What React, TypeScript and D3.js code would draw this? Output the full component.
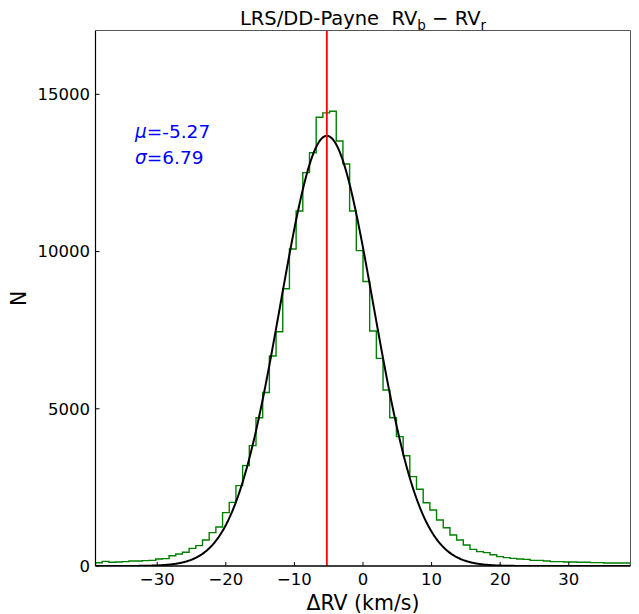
import React from "react";
import * as d3 from "d3";

const binStart = -39;
const binEnd = 39;
const counts = [
  105, 148, 117, 127, 138, 159, 159, 170, 180, 223,
  233, 328, 382, 435, 562, 647, 827, 1060, 1240, 1696,
  2025, 2555, 3191, 3827, 4717, 5520, 6678, 7452, 8819, 10081,
  11290, 12510, 13143, 14270, 14410, 14460, 13515, 12784, 11290, 10030,
  9050, 7473, 6604, 5597, 4717, 4113, 3508, 2841, 2439, 2013,
  1781, 1463, 1218, 986, 827, 668, 530, 456, 424, 360,
  297, 265, 244, 223, 212, 180, 180, 159, 138, 138,
  127, 127, 117, 117, 106, 106, 95, 95, 95, 95,
];
const mu = -5.27;
const sigma = 6.79;
const gaussPeak = 13680;
const xTicks = [-30, -20, -10, 0, 10, 20, 30];
const yTicks = [0, 5000, 10000, 15000];
const yMax = 17030;

const W = 639;
const H = 614;
const L = 95.5, R = 630.5, T = 30.5, B = 566;
const FONT = "DejaVu Sans, sans-serif";

export default function App() {
  const x = d3.scaleLinear().domain([binStart, binEnd]).range([L, R]);
  const y = d3.scaleLinear().domain([0, yMax]).range([B, T]);
  const nb = counts.length;
  const bw = (binEnd - binStart) / nb;
  const edges = d3.range(nb + 1).map((i) => binStart + i * bw);

  const pts: [number, number][] = [[edges[0], 0]];
  counts.forEach((c, i) => {
    pts.push([edges[i], c]);
    pts.push([edges[i + 1], c]);
  });
  pts.push([edges[nb], 0]);
  const stepPath = d3.line<[number, number]>().x((d) => x(d[0])).y((d) => y(d[1]))(pts) || "";

  const gx = d3.range(0, 801).map((i) => binStart + (i * (binEnd - binStart)) / 800);
  const gPath =
    d3
      .line<number>()
      .x((d) => x(d))
      .y((d) => y(gaussPeak * Math.exp(-((d - mu) ** 2) / (2 * sigma * sigma))))(gx) || "";

  const fmt = (v: number) => (v < 0 ? "\u2212" + Math.abs(v) : String(v));

  return (
    <>
      <style>{`body{margin:0}`}</style>
      <svg width={W} height={H} style={{ display: "block", fontFamily: FONT }}>
        <rect x={0} y={0} width={W} height={H} fill="#fff" />
        <defs>
          <clipPath id="plotclip">
            <rect x={L} y={T} width={R - L} height={B - T} />
          </clipPath>
        </defs>
        <g clipPath="url(#plotclip)">
          <path d={stepPath} fill="none" stroke="#008000" strokeWidth={1.4} />
          <path d={gPath} fill="none" stroke="#000" strokeWidth={2} />
          <line x1={x(mu)} x2={x(mu)} y1={T} y2={B} stroke="#ff0000" strokeWidth={1.8} />
        </g>
        {/* spines */}
        <line x1={L} x2={R} y1={T} y2={T} stroke="#555" strokeWidth={1} />
        <line x1={R} x2={R} y1={T} y2={B} stroke="#555" strokeWidth={1} />
        <line x1={L} x2={L} y1={T} y2={B} stroke="#000" strokeWidth={1.2} />
        <line x1={L} x2={R} y1={B} y2={B} stroke="#000" strokeWidth={1.5} />
        {/* x ticks */}
        {xTicks.map((t) => (
          <g key={"x" + t}>
            <line x1={x(t)} x2={x(t)} y1={B} y2={B - 4} stroke="#000" strokeWidth={1} />
            <text x={x(t)} y={585} textAnchor="middle" fontSize={16.5} fill="#000">
              {fmt(t)}
            </text>
          </g>
        ))}
        {/* y ticks */}
        {yTicks.map((t) => (
          <g key={"y" + t}>
            <line x1={L} x2={L + 4} y1={y(t)} y2={y(t)} stroke="#000" strokeWidth={1} />
            <text x={90} y={y(t)} dy="0.36em" textAnchor="end" fontSize={16.5} fill="#000">
              {t}
            </text>
          </g>
        ))}
        {/* axis labels */}
        <text x={(L + R) / 2} y={610} textAnchor="middle" fontSize={20.5} fill="#000">
          ΔRV (km/s)
        </text>
        <text
          transform={`translate(26,${(T + B) / 2}) rotate(-90)`}
          textAnchor="middle"
          fontSize={20.5}
          fill="#000"
        >
          N
        </text>
        {/* title */}
        <text
          x={(L + R) / 2}
          y={25}
          textAnchor="middle"
          fontSize={19.5}
          fill="#000"
          style={{ whiteSpace: "pre" }}
        >
          <tspan>{"LRS/DD-Payne\u00a0\u00a0RV"}</tspan>
          <tspan fontSize={13.5} dy={4.5}>b</tspan>
          <tspan dy={-4.5}>{"\u00a0\u2212\u00a0RV"}</tspan>
          <tspan fontSize={13.5} dy={4.5}>r</tspan>
        </text>
        {/* annotation */}
        <text x={135} y={137.5} fontSize={18.5} fill="#0000ff">
          <tspan fontStyle="italic">μ</tspan>
          <tspan>=-5.27</tspan>
        </text>
        <text x={135} y={163.5} fontSize={18.5} fill="#0000ff">
          <tspan fontStyle="italic">σ</tspan>
          <tspan>=6.79</tspan>
        </text>
      </svg>
    </>
  );
}
